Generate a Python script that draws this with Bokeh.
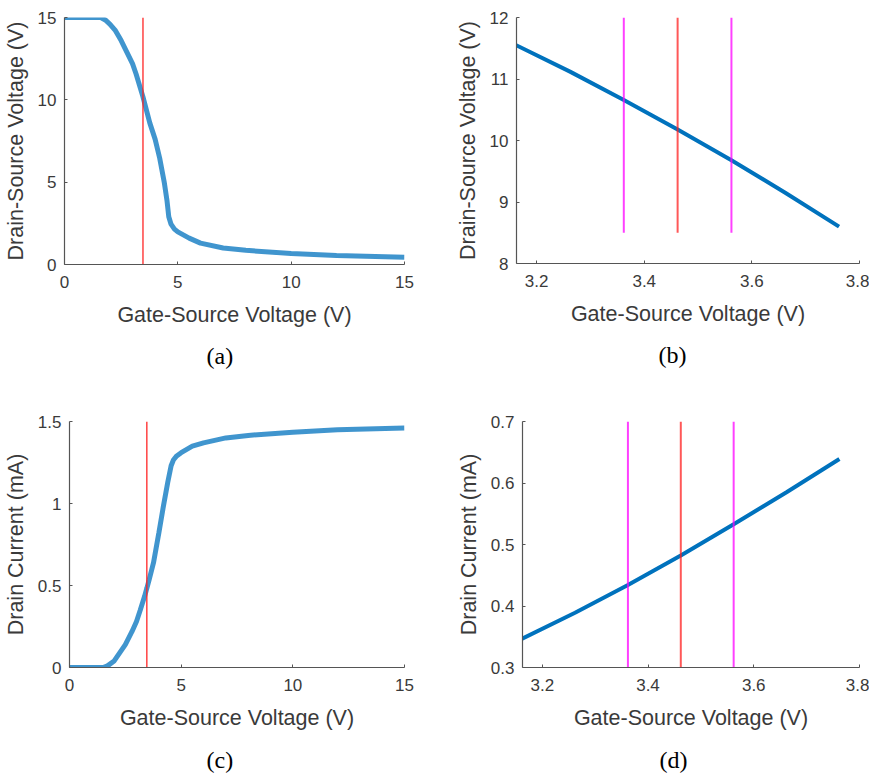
from bokeh.plotting import figure
from bokeh.layouts import column, row
from bokeh.models import Range1d, FixedTicker, NumeralTickFormatter, Title
from bokeh.embed import file_html
from bokeh.resources import INLINE

# ---------------- data ----------------
# full sweep (panels a and c)
vgs_full = [0.0, 1.0, 1.6, 1.8, 2.0, 2.25, 2.5, 2.75, 3.0, 3.162, 3.462, 3.762,
            4.0, 4.2, 4.4, 4.52, 4.6, 4.7, 4.85, 5.0, 5.5, 6.0, 7.0, 8.0, 10.0, 12.0, 15.0]
vds_full = [15.0, 15.0, 15.0, 14.85, 14.6, 14.2, 13.6, 12.9, 12.2, 11.55, 10.18, 8.6,
            7.6, 6.45, 5.0, 3.9, 2.9, 2.45, 2.15, 1.98, 1.6, 1.3, 1.0, 0.86, 0.67, 0.55, 0.44]

vgs_id = [0.0, 1.0, 1.5, 1.7, 2.0, 2.2, 2.5, 2.8, 3.0, 3.162, 3.362, 3.462, 3.562, 3.762,
          4.0, 4.2, 4.4, 4.55, 4.65, 4.8, 5.0, 5.5, 6.0, 7.0, 8.0, 10.0, 12.0, 15.0]
id_full = [0.0, 0.0, 0.0, 0.01, 0.04, 0.08, 0.14, 0.22, 0.28, 0.347, 0.434, 0.483, 0.533, 0.639,
           0.82, 0.98, 1.13, 1.23, 1.265, 1.29, 1.31, 1.35, 1.37, 1.40, 1.415, 1.435, 1.45, 1.46]

# zoomed sweep (panels b and d)
vgs_zoom = [3.162, 3.262, 3.362, 3.462, 3.562, 3.662, 3.762]
vds_zoom = [11.55, 11.12, 10.66, 10.18, 9.68, 9.15, 8.6]
id_zoom = [0.347, 0.389, 0.434, 0.482, 0.533, 0.585, 0.639]

# operating point and its +/- bounds
vgs_op = [3.462]
vgs_bounds = [3.362, 3.562]

# axis ticks
ticks_full = [0, 5, 10, 15]
ticks_zoom = [3.2, 3.4, 3.6, 3.8]
ticks_vds_full = [0, 5, 10, 15]
ticks_vds_zoom = [8, 9, 10, 11, 12]
ticks_id_full = [0, 0.5, 1, 1.5]
ticks_id_zoom = [0.3, 0.4, 0.5, 0.6, 0.7]

x_label = "Gate-Source Voltage (V)"
y_label_vds = "Drain-Source Voltage (V)"
y_label_id = "Drain Current (mA)"

# ---------------- styling ----------------
BLUE = "#0072BD"
RED = "#ff2020"
MAGENTA = "#ff00ff"
TXT = "#3a3a3a"
AX = "#555555"
FONT = "Liberation Sans"


def make_panel(xr, yr, xt, yt, ylab, caption, cap_off, cap_standoff,
               fw, fh, bl, br, bt, bb, yfmt=None):
    p = figure(frame_width=fw, frame_height=fh,
               min_border_left=bl, min_border_right=br,
               min_border_top=bt, min_border_bottom=bb,
               x_range=Range1d(*xr), y_range=Range1d(*yr),
               output_backend="svg", toolbar_location=None, tools="")
    p.outline_line_color = None
    p.grid.visible = False
    p.background_fill_color = "white"
    p.border_fill_color = "white"
    p.xaxis.ticker = FixedTicker(ticks=xt)
    p.yaxis.ticker = FixedTicker(ticks=yt)
    if yfmt is not None:
        p.yaxis.formatter = NumeralTickFormatter(format=yfmt)
    p.xaxis.axis_label = x_label
    p.yaxis.axis_label = ylab
    for ax in (p.xaxis, p.yaxis):
        ax.axis_line_color = AX
        ax.axis_line_width = 1.2
        ax.major_tick_line_color = AX
        ax.major_tick_in = 3
        ax.major_tick_out = 0
        ax.minor_tick_line_color = None
        ax.major_label_text_font = FONT
        ax.major_label_text_font_size = "17px"
        ax.major_label_text_color = TXT
        ax.axis_label_text_font = FONT
        ax.axis_label_text_font_size = "21.5px"
        ax.axis_label_text_font_style = "normal"
        ax.axis_label_text_color = TXT
    p.xaxis.major_label_standoff = 11
    p.yaxis.major_label_standoff = 8
    p.xaxis.axis_label_standoff = 12
    p.yaxis.axis_label_standoff = 7
    p.add_layout(Title(text=caption, align="left", offset=cap_off,
                       standoff=cap_standoff, vertical_align="middle",
                       text_font="Liberation Serif", text_font_size="24px",
                       text_font_style="normal", text_color="black"), "below")
    return p


# (a)
pa = make_panel((0, 15), (0, 15), ticks_full, ticks_vds_full, y_label_vds, "(a)",
                142, 24, 340, 247, 60, 31, 16, 148)
pa.line(vgs_full, vds_full, line_color=BLUE, line_width=5, line_alpha=0.75)
pa.segment(x0=vgs_op, y0=[0], x1=vgs_op, y1=[15], line_color=RED, line_width=1.5, line_alpha=0.85)

# (b)
pb = make_panel((3.1626, 3.8), (8, 12), ticks_zoom, ticks_vds_zoom, y_label_vds, "(b)",
                142, 24, 343, 246, 81, 10, 17, 148)
pb.line(vgs_zoom, vds_zoom, line_color=BLUE, line_width=4)
pb.segment(x0=vgs_bounds, y0=[8.5, 8.5], x1=vgs_bounds, y1=[12, 12],
           line_color=MAGENTA, line_width=2, line_alpha=0.75)
pb.segment(x0=vgs_op, y0=[8.5], x1=vgs_op, y1=[12], line_color=RED, line_width=2, line_alpha=0.75)

# (c)
pc = make_panel((0, 15), (0, 1.5), ticks_full, ticks_id_full, y_label_id, "(c)",
                137, 26, 335, 246, 65, 31, 10, 100, yfmt="0.[0]")
pc.line(vgs_id, id_full, line_color=BLUE, line_width=5, line_alpha=0.75)
pc.segment(x0=vgs_op, y0=[0], x1=vgs_op, y1=[1.5], line_color=RED, line_width=1.5, line_alpha=0.85)

# (d)
pd = make_panel((3.1626, 3.8), (0.3, 0.7), ticks_zoom, ticks_id_zoom, y_label_id, "(d)",
                137, 26, 337, 246, 87, 10, 10, 100)
pd.line(vgs_zoom, id_zoom, line_color=BLUE, line_width=4)
pd.segment(x0=vgs_bounds, y0=[0.3, 0.3], x1=vgs_bounds, y1=[0.7, 0.7],
           line_color=MAGENTA, line_width=2, line_alpha=0.75)
pd.segment(x0=vgs_op, y0=[0.3], x1=vgs_op, y1=[0.7], line_color=RED, line_width=2, line_alpha=0.75)

layout = column(row(pa, pb, spacing=0), row(pc, pd, spacing=0), spacing=0)

open("out.html", "w").write(file_html(layout, INLINE))
